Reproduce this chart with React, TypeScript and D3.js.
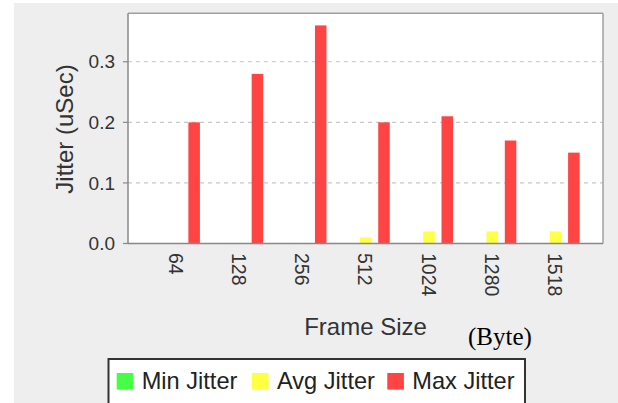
import React from "react";
import * as d3 from "d3";

const categories = ["64", "128", "256", "512", "1024", "1280", "1518"];
const seriesNames = ["Min Jitter", "Avg Jitter", "Max Jitter"];
const minJitter = [0, 0, 0, 0, 0, 0, 0];
const avgJitter = [0, 0, 0, 0.01, 0.02, 0.02, 0.02];
const maxJitter = [0.2, 0.28, 0.36, 0.2, 0.21, 0.17, 0.15];
const seriesColors = ["#44ff44", "#ffff44", "#ff4444"];
const yTicks = [0, 0.1, 0.2, 0.3];

const W = 618;
const H = 403;
const plot = { left: 128, right: 603, top: 13.3, bottom: 243.5 };
const SANS = "'Liberation Sans', Arial, sans-serif";
const SERIF = "'Liberation Serif', 'Times New Roman', serif";

export default function App() {
  const seriesValues = [minJitter, avgJitter, maxJitter];
  const y = d3.scaleLinear().domain([0, 0.38]).range([plot.bottom, plot.top]);
  const x0 = d3
    .scaleBand<string>()
    .domain(categories)
    .range([plot.left + 16.2, plot.right - 15.8])
    .padding(0);
  const innerStep = 18.3;
  const innerPad = 0.37;
  const innerHalf = (innerStep * (seriesNames.length - innerPad)) / 2;
  const x1 = d3
    .scaleBand<string>()
    .domain(seriesNames)
    .range([-innerHalf, innerHalf])
    .paddingInner(innerPad)
    .paddingOuter(0);
  const center = (c: string) => (x0(c) as number) + x0.bandwidth() / 2;

  const legendStart = 116.7;
  const legendStep = 135.3;

  return (
    <svg
      width={W}
      height={H}
      style={{ position: "absolute", left: 0, top: 0, display: "block" }}
    >
      <rect x={0} y={0} width={W} height={H} fill="#ffffff" />
      <rect x={14} y={3} width={W - 14} height={H - 3} fill="#eeeeee" />
      <rect
        x={plot.left}
        y={plot.top}
        width={plot.right - plot.left}
        height={plot.bottom - plot.top}
        fill="#ffffff"
      />
      {yTicks
        .filter((t) => t > 0)
        .map((t) => (
          <line
            key={"g" + t}
            x1={plot.left}
            x2={plot.right}
            y1={y(t)}
            y2={y(t)}
            stroke="#c8c8c8"
            strokeWidth={1.2}
            strokeDasharray="4,4"
          />
        ))}
      {seriesNames.map((s, si) =>
        categories.map((c, ci) => {
          const v = seriesValues[si][ci];
          if (v <= 0) return null;
          return (
            <rect
              key={s + c}
              x={center(c) + (x1(s) as number)}
              y={y(v)}
              width={x1.bandwidth()}
              height={y(0) - y(v)}
              fill={seriesColors[si]}
            />
          );
        })
      )}
      <line x1={plot.left} x2={plot.right} y1={plot.top} y2={plot.top} stroke="#a0a0a0" strokeWidth={1.5} />
      <line x1={plot.right} x2={plot.right} y1={plot.top} y2={plot.bottom} stroke="#a0a0a0" strokeWidth={1.5} />
      <line x1={plot.left} x2={plot.left} y1={plot.top} y2={plot.bottom} stroke="#888888" strokeWidth={1.5} />
      <line x1={plot.left} x2={plot.right} y1={plot.bottom} y2={plot.bottom} stroke="#888888" strokeWidth={1.5} />
      {yTicks.map((t) => (
        <g key={"t" + t}>
          <line x1={plot.left - 5} x2={plot.left} y1={y(t)} y2={y(t)} stroke="#888888" strokeWidth={1.2} />
          <text
            x={115}
            y={y(t)}
            dy="0.35em"
            textAnchor="end"
            fontFamily={SANS}
            fontSize={19}
            fill="#333333"
          >
            {d3.format(".1f")(t)}
          </text>
        </g>
      ))}
      {categories.map((c) => (
        <text
          key={"x" + c}
          transform={`translate(${center(c) - 0.5},${plot.bottom + 9.5}) rotate(90)`}
          dy="0.35em"
          textAnchor="start"
          fontFamily={SANS}
          fontSize={19.5}
          fill="#333333"
        >
          {c}
        </text>
      ))}
      <text
        transform={`translate(73,129) rotate(-90)`}
        textAnchor="middle"
        fontFamily={SANS}
        fontSize={24}
        fill="#333333"
      >
        Jitter (uSec)
      </text>
      <text
        x={(plot.left + plot.right) / 2}
        y={335}
        textAnchor="middle"
        fontFamily={SANS}
        fontSize={24}
        fill="#333333"
      >
        Frame Size
      </text>
      <text x={468} y={345} fontFamily={SERIF} fontSize={25} fill="#000000">
        (Byte)
      </text>
      <rect x={108.5} y={359} width={416.5} height={60} fill="#ffffff" stroke="#333333" strokeWidth={2} />
      {seriesNames.map((s, i) => (
        <g key={"l" + s} transform={`translate(${legendStart + i * legendStep},0)`}>
          <rect x={0} y={373} width={16.6} height={16.6} fill={seriesColors[i]} />
          <text x={25} y={389.3} fontFamily={SANS} fontSize={23.6} fill="#222222">
            {s}
          </text>
        </g>
      ))}
    </svg>
  );
}
